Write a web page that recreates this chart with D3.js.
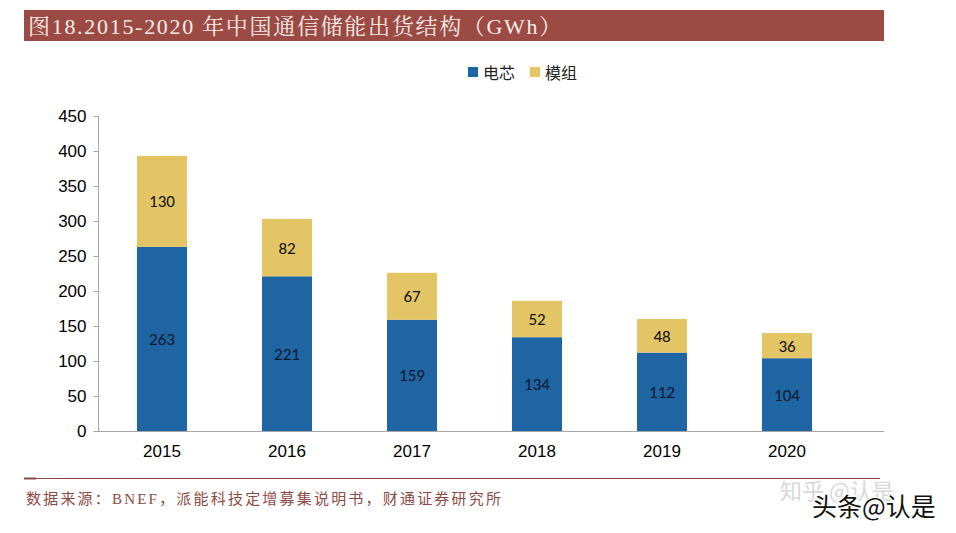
<!DOCTYPE html>
<html><head><meta charset="utf-8">
<script src="https://cdn.jsdelivr.net/npm/d3@7"></script>
<style>body{margin:0;background:#fff;} svg{display:block;}</style>
</head><body>
<script>
const years = ["2015","2016","2017","2018","2019","2020"];
const cells = [263,221,159,134,112,104];
const modules = [130,82,67,52,48,36];
const seriesNames = ["电芯","模组"];
const yTicks = [0,50,100,150,200,250,300,350,400,450];
const colors = ["#1f64a3","#e3c565"];

const W=956,H=533;
const svg=d3.select("body").append("svg").attr("width",W).attr("height",H);

// title bar
svg.append("rect").attr("x",24).attr("y",10).attr("width",860).attr("height",31).attr("fill","#9c4a44");
svg.append("text").attr("x",28).attr("y",34).attr("fill","#f7eeea")
  .style("font-family","'Liberation Serif','Noto Serif CJK SC','Noto Sans CJK SC',serif").style("font-size","22px")
  .style("letter-spacing","1.7px")
  .text("图18.2015-2020 年中国通信储能出货结构（GWh）");

const y=d3.scaleLinear().domain([0,450]).range([431,116]);
const x=d3.scaleBand().domain(years).range([99.5,849.5]).paddingInner(0.6).paddingOuter(0.3);

const data=years.map((yr,i)=>({year:yr,cell:cells[i],module:modules[i]}));
const stack=d3.stack().keys(["cell","module"])(data);

// axes
svg.append("line").attr("x1",98).attr("x2",884).attr("y1",431.5).attr("y2",431.5).attr("stroke","#a6a6a6").attr("stroke-width",1);
const ya=svg.append("g").attr("transform","translate(98.5,0)")
  .call(d3.axisLeft(y).tickValues(yTicks).tickSize(5).tickPadding(7));
ya.select(".domain").attr("stroke","#a6a6a6").attr("d","M-0,116V431.5");
ya.selectAll(".tick line").attr("stroke","#a6a6a6");
ya.selectAll(".tick text").attr("fill","#000").style("font-family","'Liberation Sans',Arial,sans-serif").style("font-size","17px");

const xa=svg.append("g").attr("transform","translate(0,431)")
  .call(d3.axisBottom(x).tickSize(0).tickPadding(14));
xa.select(".domain").remove();
xa.selectAll(".tick text").attr("fill","#000").style("font-family","'Liberation Sans',Arial,sans-serif").style("font-size","17px");

// bars
stack.forEach((s,si)=>{
  const g=svg.append("g");
  g.selectAll("rect").data(s).join("rect")
    .attr("x",d=>x(d.data.year)).attr("width",x.bandwidth())
    .attr("y",d=>y(d[1])).attr("height",d=>y(d[0])-y(d[1]))
    .attr("fill",colors[si]);
  g.selectAll("text").data(s).join("text")
    .attr("x",d=>x(d.data.year)+x.bandwidth()/2)
    .attr("y",d=>(y(d[0])+y(d[1]))/2+6)
    .attr("text-anchor","middle")
    .attr("fill",si===0?"#0b1a30":"#111")
    .style("font-family","Carlito,'Open Sans','Liberation Sans',sans-serif").style("font-size","17px")
    .text(d=>d[1]-d[0]);
});

// legend
const leg=svg.append("g");
seriesNames.forEach((n,i)=>{
  const lx=468+i*62;
  leg.append("rect").attr("x",lx).attr("y",67).attr("width",10).attr("height",10).attr("fill",colors[i]);
  leg.append("text").attr("x",lx+15).attr("y",79).attr("fill","#222")
    .style("font-family","'Noto Sans CJK SC',sans-serif").style("font-size","16px").text(n);
});

// footer
svg.append("line").attr("x1",24).attr("x2",880).attr("y1",478.5).attr("y2",478.5).attr("stroke","#8e4a44").attr("stroke-width",1);
svg.append("line").attr("x1",24).attr("x2",36).attr("y1",478.5).attr("y2",478.5).attr("stroke","#8e4a44").attr("stroke-width",2);
svg.append("text").attr("x",26).attr("y",504).attr("fill","#8d4a44")
  .style("font-family","'Liberation Serif','Noto Sans CJK SC',serif").style("font-size","15px")
  .style("letter-spacing","2.2px")
  .text("数据来源：BNEF，派能科技定增募集说明书，财通证券研究所");

// watermarks
svg.append("text").attr("x",780).attr("y",499).attr("fill","#d8d8d8")
  .style("font-family","'Noto Sans CJK SC',sans-serif").style("font-size","22px").text("知乎 @认是");
svg.append("text").attr("x",812).attr("y",516).attr("fill","#111")
  .attr("stroke","#fff").attr("stroke-width",3).attr("paint-order","stroke")
  .style("font-family","'Noto Sans CJK SC',sans-serif").style("font-size","25px").text("头条@认是");
</script>
</body></html>
